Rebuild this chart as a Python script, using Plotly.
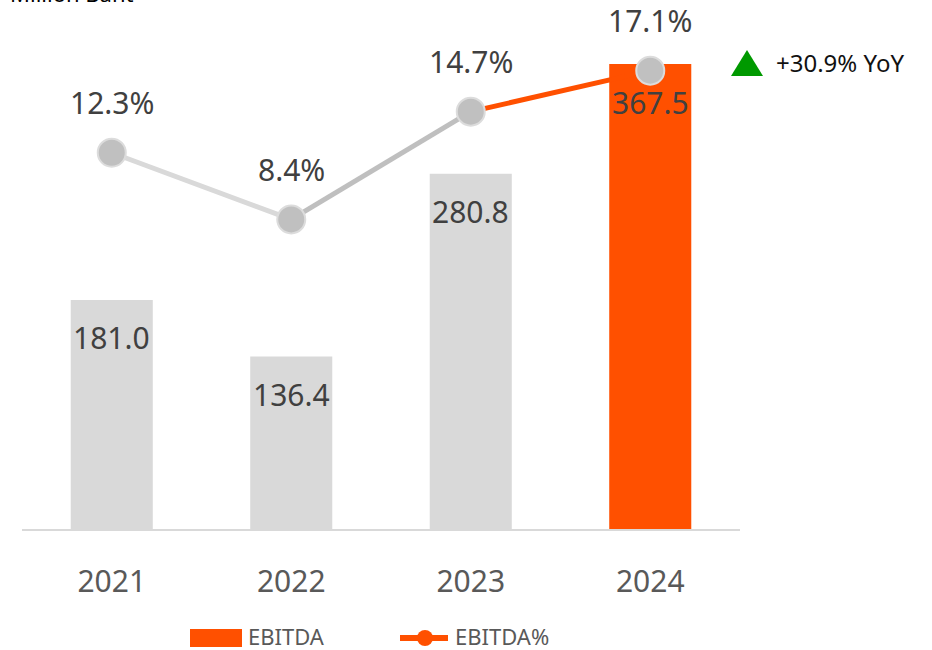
import plotly.graph_objects as go

# --- data -------------------------------------------------------------
years = ["2021", "2022", "2023", "2024"]
ebitda = [181.0, 136.4, 280.8, 367.5]          # Million Baht
ebitda_margin = [12.3, 8.4, 14.7, 17.1]         # %
yoy_text = "+30.9% YoY"

# --- styling ----------------------------------------------------------
W, H = 932, 650
M_L, M_R, M_T, M_B = 22, 192, 20, 121
PLOT_W = W - M_L - M_R
PLOT_H = H - M_T - M_B

ORANGE = "#ff5000"
GREY_BAR = "#d9d9d9"
GREY_LINE_1 = "#d9d9d9"
GREY_LINE_2 = "#bfbfbf"
GREY_MARKER = "#c0c0c0"
TXT = "#404040"
TXT_AXIS = "#595959"
FONT = "Noto Sans"


def px(x):
    """pixel x -> paper x"""
    return (x - M_L) / PLOT_W


def py(y):
    """pixel y -> paper y"""
    return (H - M_B - y) / PLOT_H


bar_colors = [GREY_BAR, GREY_BAR, GREY_BAR, ORANGE]
seg_colors = [GREY_LINE_1, GREY_LINE_2, ORANGE]

fig = go.Figure()

fig.add_trace(go.Bar(
    x=years, y=ebitda, marker=dict(color=bar_colors, line=dict(width=0)),
    showlegend=False, hoverinfo="skip", yaxis="y",
))

# margin line, drawn segment by segment so each leg has its own colour
for i, c in enumerate(seg_colors):
    fig.add_trace(go.Scatter(
        x=years[i:i + 2], y=ebitda_margin[i:i + 2], mode="lines",
        line=dict(color=c, width=5), showlegend=False, hoverinfo="skip",
        yaxis="y2",
    ))

fig.add_trace(go.Scatter(
    x=years, y=ebitda_margin, mode="markers",
    marker=dict(size=28, color=GREY_MARKER, line=dict(color="#dcdcdc", width=2)),
    showlegend=False, hoverinfo="skip", yaxis="y2",
))

annotations = []
# category axis: annotations are placed by category index
for i, v in enumerate(ebitda):
    annotations.append(dict(
        x=i, y=v, xref="x", yref="y", text=f"{v:.1f}", showarrow=False,
        yshift=-38, font=dict(family=FONT, size=30, color=TXT),
    ))
for i, v in enumerate(ebitda_margin):
    annotations.append(dict(
        x=i, y=v, xref="x", yref="y2", text=f"{v:.1f}%", showarrow=False,
        yshift=50, font=dict(family=FONT, size=30, color=TXT),
    ))

# unit label at the top-left (runs off the top edge of the canvas)
annotations.append(dict(
    x=px(8), y=py(10), xref="paper", yref="paper", xanchor="left",
    yanchor="bottom", text="Million Baht", showarrow=False,
    font=dict(family=FONT, size=22, color="#000000"),
))

# YoY growth call-out
annotations.append(dict(
    x=px(774), y=py(63), xref="paper", yref="paper", xanchor="left",
    yanchor="middle", text=yoy_text, showarrow=False,
    font=dict(family=FONT, size=24, color="#111111"),
))

# legend texts
annotations.append(dict(
    x=px(246), y=py(636), xref="paper", yref="paper", xanchor="left",
    yanchor="middle", text="EBITDA", showarrow=False,
    font=dict(family=FONT, size=22, color=TXT_AXIS),
))
annotations.append(dict(
    x=px(453), y=py(636), xref="paper", yref="paper", xanchor="left",
    yanchor="middle", text="EBITDA%", showarrow=False,
    font=dict(family=FONT, size=22, color=TXT_AXIS),
))

shapes = [
    # up triangle beside the YoY text
    dict(type="path", xref="paper", yref="paper",
         path=f"M {px(731)} {py(76)} L {px(763)} {py(76)} L {px(747)} {py(50)} Z",
         fillcolor="#009900", line=dict(width=0)),
    # legend swatch: bar
    dict(type="rect", xref="paper", yref="paper",
         x0=px(190), x1=px(242), y0=py(647), y1=py(629),
         fillcolor=ORANGE, line=dict(width=0)),
    # legend swatch: line with marker
    dict(type="line", xref="paper", yref="paper",
         x0=px(400), x1=px(448), y0=py(638), y1=py(638),
         line=dict(color=ORANGE, width=6)),
    dict(type="circle", xref="paper", yref="paper",
         x0=px(417), x1=px(433), y0=py(646), y1=py(630),
         fillcolor=ORANGE, line=dict(width=0)),
]

fig.update_layout(
    width=W, height=H, autosize=False,
    margin=dict(l=M_L, r=M_R, t=M_T, b=M_B),
    paper_bgcolor="white", plot_bgcolor="white",
    bargap=0.543,
    showlegend=False,
    xaxis=dict(
        type="category", categoryorder="array", categoryarray=years,
        range=[-0.5, len(years) - 0.5], autorange=False,
        showgrid=False, zeroline=False,
        showline=True, linecolor="#d9d9d9", linewidth=2,
        ticks="", ticklabelstandoff=25,
        tickfont=dict(family=FONT, size=30, color=TXT_AXIS),
    ),
    yaxis=dict(range=[0, PLOT_H / 1.2653], visible=False, showgrid=False,
               zeroline=False, fixedrange=True),
    yaxis2=dict(range=[-9.7, 20.06], overlaying="y", visible=False,
                showgrid=False, zeroline=False),
    annotations=annotations,
    shapes=shapes,
)

fig.write_html("out.html")
